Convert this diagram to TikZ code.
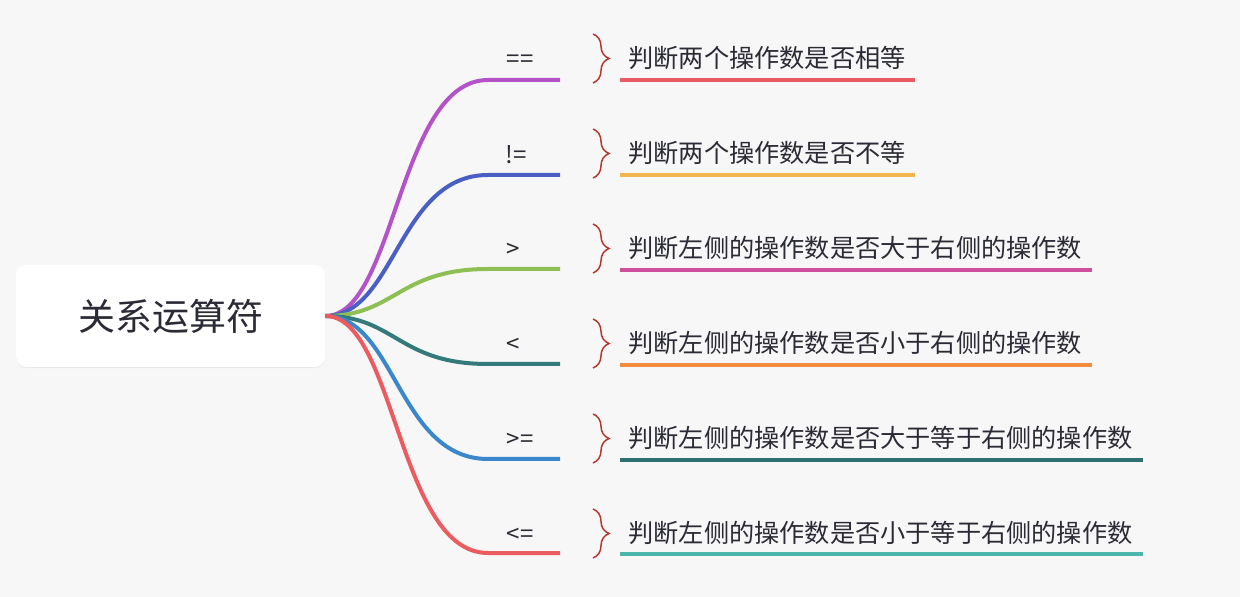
\documentclass[tikz,border=0pt]{standalone}
\usepackage{fontspec}
\setmainfont{Noto Sans CJK SC}
\usetikzlibrary{decorations.pathreplacing,shadows}

\definecolor{bgcol}{HTML}{F7F7F7}
\definecolor{inkcol}{HTML}{2B2B35}
\definecolor{bracecol}{HTML}{B8352E}
\definecolor{brEq}{HTML}{B452C8}
\definecolor{brNe}{HTML}{4A5FC4}
\definecolor{brGt}{HTML}{8DBF55}
\definecolor{brLt}{HTML}{357A7A}
\definecolor{brGe}{HTML}{3B87CC}
\definecolor{brLe}{HTML}{EC5B5F}
\definecolor{ulEq}{HTML}{E85B64}
\definecolor{ulNe}{HTML}{F2B74C}
\definecolor{ulGt}{HTML}{D0509E}
\definecolor{ulLt}{HTML}{F28C3E}
\definecolor{ulGe}{HTML}{2F7170}
\definecolor{ulLe}{HTML}{4DB6AC}

\begin{document}
\begin{tikzpicture}[x=0.5pt,y=-0.5pt,
    rootbox/.style={fill=white,rounded corners=5pt,minimum width=154.5pt,minimum height=51pt,
        font=\fontsize{18.5}{20}\selectfont,text=inkcol,
        drop shadow={shadow xshift=0pt,shadow yshift=-0.6pt,opacity=0.1}},
    oplabel/.style={font=\fontsize{12}{13}\selectfont,text=inkcol,inner sep=0pt},
    leaf/.style={font=\fontsize{12.6}{14}\selectfont,text=inkcol,inner sep=0pt,anchor=west},
    branch/.style={line width=2pt},
    underline/.style={line width=2pt},
    bracket/.style={bracecol,line width=0.75pt,decorate,decoration={brace,amplitude=8pt,aspect=0.5}}]

    % background
    \fill[bgcol] (0,0) rectangle (1240,597);

    \node[rootbox] (root) at (170.5,316) {关系运算符};

    % branch ends
    \coordinate (eqbend) at (488,80);  \coordinate (eqend) at (560,80);
    \coordinate (nebend) at (488,175); \coordinate (neend) at (560,175);
    \coordinate (gtbend) at (488,269); \coordinate (gtend) at (560,269);
    \coordinate (ltbend) at (488,364); \coordinate (ltend) at (560,364);
    \coordinate (gebend) at (488,459); \coordinate (geend) at (560,459);
    \coordinate (lebend) at (488,553); \coordinate (leend) at (560,553);

    % branches
    \draw[branch,brEq] (root.east) .. controls +(70,0) and +(-90,0) .. (eqbend) -- (eqend);
    \draw[branch,brNe] (root.east) .. controls +(70,0) and +(-90,0) .. (nebend) -- (neend);
    \draw[branch,brGt] (root.east) .. controls +(70,0) and +(-90,0) .. (gtbend) -- (gtend);
    \draw[branch,brLt] (root.east) .. controls +(70,0) and +(-90,0) .. (ltbend) -- (ltend);
    \draw[branch,brGe] (root.east) .. controls +(70,0) and +(-90,0) .. (gebend) -- (geend);
    \draw[branch,brLe] (root.east) .. controls +(70,0) and +(-90,0) .. (lebend) -- (leend);

    % operators
    \node[oplabel] (eq) at (520,61) {==};
    \node[oplabel] (ne) at (516,155) {!=};
    \node[oplabel] (gt) at (513,250) {>};
    \node[oplabel] (lt) at (513,345) {<};
    \node[oplabel] (ge) at (520,440) {>=};
    \node[oplabel] (le) at (520,535) {<=};

    % braces
    \draw[bracket] (593,34) -- (593,83);
    \draw[bracket] (593,129) -- (593,178);
    \draw[bracket] (593,224) -- (593,273);
    \draw[bracket] (593,319) -- (593,368);
    \draw[bracket] (593,414) -- (593,463);
    \draw[bracket] (593,509) -- (593,558);

    % descriptions
    \node[leaf] (eqtext) at (628,58) {判断两个操作数是否相等};
    \node[leaf] (netext) at (628,153) {判断两个操作数是否不等};
    \node[leaf] (gttext) at (628,248) {判断左侧的操作数是否大于右侧的操作数};
    \node[leaf] (lttext) at (628,343) {判断左侧的操作数是否小于右侧的操作数};
    \node[leaf] (getext) at (628,438) {判断左侧的操作数是否大于等于右侧的操作数};
    \node[leaf] (letext) at (628,533) {判断左侧的操作数是否小于等于右侧的操作数};

    \draw[underline,ulEq] (620,80) -- (915,80);
    \draw[underline,ulNe] (620,175) -- (915,175);
    \draw[underline,ulGt] (620,270) -- (1092,270);
    \draw[underline,ulLt] (620,365) -- (1092,365);
    \draw[underline,ulGe] (620,460) -- (1143,460);
    \draw[underline,ulLe] (620,554) -- (1143,554);
\end{tikzpicture}
\end{document}
